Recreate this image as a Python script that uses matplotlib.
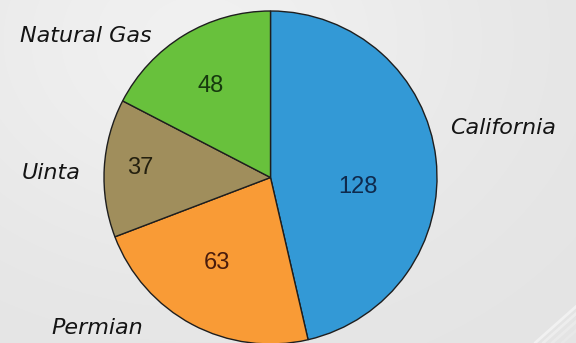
import numpy as np
import matplotlib
matplotlib.use("Agg")
import matplotlib.pyplot as plt

# Wells by region
categories = ["California", "Permian", "Uinta", "Natural Gas"]
values = [128, 63, 37, 48]
colors = ["#3399d6", "#f99b36", "#a08e5c", "#68c13c"]
value_colors = ["#0f2a4d", "#4a1c0c", "#24200f", "#163a0e"]

W, H = 576, 343
fig = plt.figure(figsize=(W / 100, H / 100), dpi=100)
ax = fig.add_axes([0, 0, 1, 1])

# soft grey backdrop with a light glow toward the upper left
yy, xx = np.mgrid[0:H, 0:W]
glow = np.exp(-(((xx - 200) / 300.0) ** 2 + ((yy - 40) / 230.0) ** 2))
shade = 0.893 + 0.05 * glow
bg = np.dstack([shade, shade, shade])
ax.imshow(bg, extent=(0, W, 0, H), origin="upper", zorder=0, aspect="auto")

# faint diagonal streaks in the lower right corner
for off, a in [(0, 0.5), (8, 0.35), (17, 0.25), (27, 0.15)]:
    x0 = 535 + off
    ax.plot([x0, x0 + 45], [0, 40], color="white", lw=2.0, alpha=a,
            solid_capstyle="round", zorder=1)

cx, cy, r = 270.5, H - 177.5, 166.5
wedges, _ = ax.pie(values, colors=colors, startangle=90, counterclock=False,
                   center=(cx, cy), radius=r,
                   wedgeprops=dict(edgecolor="#1e1e1e", linewidth=1.0))
for w in wedges:
    w.set_zorder(2)

ax.set_xlim(0, W)
ax.set_ylim(0, H)
ax.set_aspect("equal")
ax.axis("off")

# value labels inside the slices
value_pos = [(358, 187), (217, 263), (140, 168), (211, 86)]
for v, (x, y), c in zip(values, value_pos, value_colors):
    ax.text(x, H - y, str(v), ha="center", va="center", fontsize=17,
            family="Liberation Sans", color=c, zorder=3)

# category labels around the pie
label_pos = [(503, 128), (97, 328), (51, 173), (86, 36)]
for name, (x, y) in zip(categories, label_pos):
    ax.text(x, H - y, name, ha="center", va="center", fontsize=16,
            family="DejaVu Sans", style="oblique", color="#141414", zorder=3)

fig.savefig("out.png", dpi=100)
